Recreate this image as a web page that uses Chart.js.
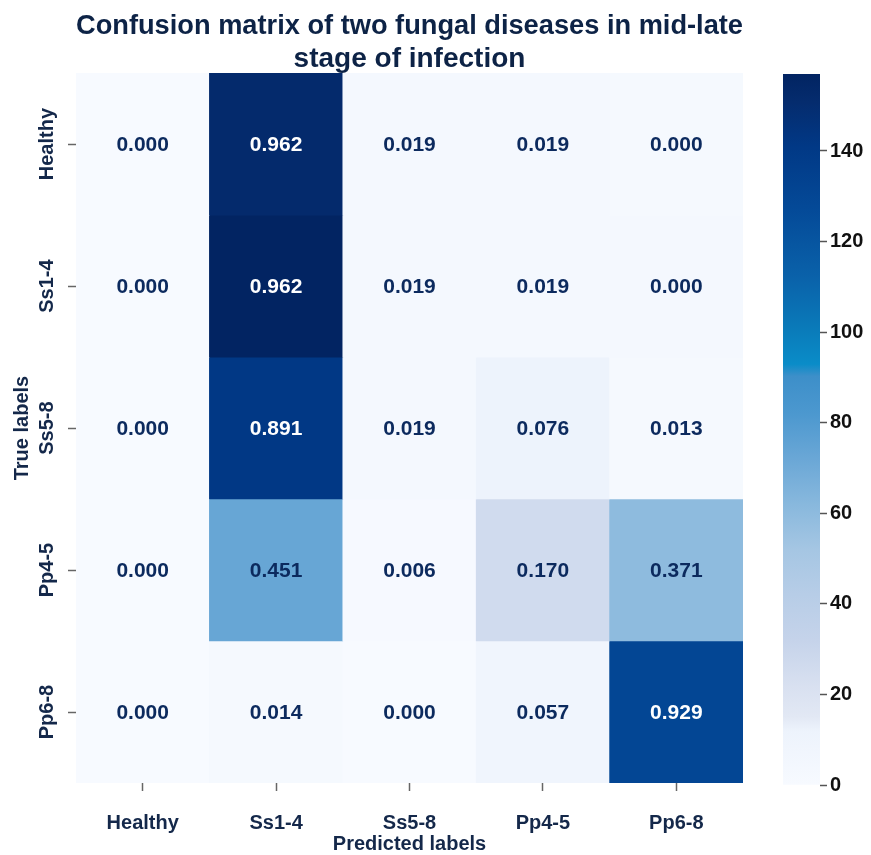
<!DOCTYPE html>
<html>
<head>
<meta charset="utf-8">
<script src="https://cdn.jsdelivr.net/npm/chart.js@4/dist/chart.umd.min.js"></script>
<style>
  html, body { margin: 0; padding: 0; background: #ffffff; }
  #wrap { position: relative; width: 871px; height: 855px; }
  #wrap canvas { position: absolute; left: 0; top: 0; }
</style>
</head>
<body>
<div id="wrap">
  <canvas id="matrix" width="871" height="855"></canvas>
  <canvas id="cbar" width="871" height="855"></canvas>
</div>
<script>
// Class names on both axes
const predictedLabels = ['Healthy', 'Ss1-4', 'Ss5-8', 'Pp4-5', 'Pp6-8'];
const trueLabels = ['Healthy', 'Ss1-4', 'Ss5-8', 'Pp4-5', 'Pp6-8'];

// Sample counts per cell (rows = true class, columns = predicted class); drive the cell colour
const countsHealthy = [0, 152, 3, 3, 2];
const countsSs14    = [0, 157, 3, 4, 4];
const countsSs58    = [0, 141, 3, 12, 2];
const countsPp45    = [0, 73, 1, 26, 60];
const countsPp68    = [0, 2, 0, 8, 130];

// Row-normalised rates printed in each cell
const ratesHealthy = [0.000, 0.962, 0.019, 0.019, 0.000];
const ratesSs14    = [0.000, 0.962, 0.019, 0.019, 0.000];
const ratesSs58    = [0.000, 0.891, 0.019, 0.076, 0.013];
const ratesPp45    = [0.000, 0.451, 0.006, 0.170, 0.371];
const ratesPp68    = [0.000, 0.014, 0.000, 0.057, 0.929];

// Colour bar range and tick step
const colorMin = 0;
const colorMax = 157;
const colorTickStep = 20;

const counts = [countsHealthy, countsSs14, countsSs58, countsPp45, countsPp68];
const rates = [ratesHealthy, ratesSs14, ratesSs58, ratesPp45, ratesPp68];

// Blue sequential colour map: [fraction of range, colour]
const cmapStops = [
  [0.000, '#f7faff'],
  [0.076, '#edf3fc'],
  [0.096, '#e2e8f4'],
  [0.140, '#d8e0f0'],
  [0.204, '#c5d3ea'],
  [0.268, '#b7cde7'],
  [0.331, '#a5c6e3'],
  [0.395, '#88b8dd'],
  [0.459, '#6aa7d6'],
  [0.522, '#4c98cf'],
  [0.575, '#3d8fc9'],
  [0.592, '#0a8cc8'],
  [0.643, '#0a7ab9'],
  [0.713, '#0a62aa'],
  [0.809, '#044a98'],
  [0.900, '#013885'],
  [0.960, '#052c6e'],
  [1.000, '#022462']
];

function hexToRgb(h) {
  const n = parseInt(h.slice(1), 16);
  return [(n >> 16) & 255, (n >> 8) & 255, n & 255];
}

function colormap(v) {
  let t = (v - colorMin) / (colorMax - colorMin);
  t = Math.max(0, Math.min(1, t));
  for (let i = 1; i < cmapStops.length; i++) {
    const [t1, c1] = cmapStops[i];
    const [t0, c0] = cmapStops[i - 1];
    if (t <= t1) {
      const f = (t - t0) / (t1 - t0 || 1);
      const a = hexToRgb(c0), b = hexToRgb(c1);
      const rgb = a.map((x, k) => Math.round(x + (b[k] - x) * f));
      return `rgb(${rgb[0]},${rgb[1]},${rgb[2]})`;
    }
  }
  return cmapStops[cmapStops.length - 1][1];
}

const FONT = "'Liberation Sans', Arial, Helvetica, sans-serif";
const LABEL_COLOR = '#14284a';

// One floating-bar dataset per true-class row, spanning [row, row + 1] on the row axis
const datasets = counts.map((row, r) => ({
  label: trueLabels[r],
  data: row.map(() => [r, r + 1]),
  backgroundColor: row.map(colormap),
  borderWidth: 0,
  barPercentage: 1,
  categoryPercentage: 1,
  grouped: false
}));

// Writes the rate value at the centre of each cell
const cellText = {
  id: 'cellText',
  afterDatasetsDraw(chart) {
    const ctx = chart.ctx;
    ctx.save();
    ctx.font = `bold 21px ${FONT}`;
    ctx.textAlign = 'center';
    ctx.textBaseline = 'middle';
    chart.data.datasets.forEach((ds, r) => {
      const meta = chart.getDatasetMeta(r);
      meta.data.forEach((bar, c) => {
        const props = bar.getProps(['x', 'y', 'base'], true);
        const cy = (props.y + props.base) / 2;
        ctx.fillStyle = counts[r][c] > 100 ? '#ffffff' : '#0c2a5e';
        ctx.fillText(rates[r][c].toFixed(3), props.x, cy + 1);
      });
    });
    ctx.restore();
  }
};

new Chart(document.getElementById('matrix'), {
  type: 'bar',
  data: { labels: predictedLabels, datasets },
  plugins: [cellText],
  options: {
    responsive: false,
    animation: false,
    events: [],
    layout: { padding: { left: 0, right: 128, top: 0, bottom: 0 } },
    plugins: {
      legend: { display: false },
      tooltip: { enabled: false },
      title: {
        display: true,
        fullSize: false,
        text: ['Confusion matrix of two fungal diseases in mid-late', 'stage of infection'],
        color: '#0d2346',
        font: { family: FONT, size: 28, weight: 'bold', lineHeight: 1.18 },
        padding: { top: 10, bottom: -3 }
      }
    },
    scales: {
      x: {
        type: 'category',
        grid: { offset: false, drawOnChartArea: false, tickLength: 8, color: '#666666', tickWidth: 1.5 },
        border: { display: false },
        ticks: { color: LABEL_COLOR, font: { family: FONT, size: 20, weight: 'bold' }, padding: 20, maxRotation: 0, minRotation: 0 },
        title: { display: true, text: 'Predicted labels', color: LABEL_COLOR, font: { family: FONT, size: 20, weight: 'bold' }, padding: { top: 0, bottom: -1 } },
        afterFit(scale) { scale.height = 72; }
      },
      y: {
        type: 'linear',
        min: 0,
        max: trueLabels.length,
        reverse: true,
        afterBuildTicks(scale) { scale.ticks = trueLabels.map((_, i) => ({ value: i + 0.5 })); },
        grid: { drawOnChartArea: false, tickLength: 8, color: '#666666', tickWidth: 1.5 },
        border: { display: false },
        ticks: {
          color: LABEL_COLOR,
          font: { family: FONT, size: 20, weight: 'bold' },
          minRotation: 90, maxRotation: 90,
          crossAlign: 'center',
          padding: -16,
          callback(v) { return trueLabels[Math.floor(v)]; }
        },
        title: { display: true, text: 'True labels', color: LABEL_COLOR, font: { family: FONT, size: 20, weight: 'bold' }, padding: { top: 10, bottom: 0 } },
        afterFit(scale) { scale.width = 76; }
      }
    }
  }
});

// Colour bar: one bar from colorMin to colorMax filled with the colour map
new Chart(document.getElementById('cbar'), {
  type: 'bar',
  data: {
    labels: [''],
    datasets: [{
      data: [[colorMin, colorMax]],
      borderWidth: 0,
      barPercentage: 1,
      categoryPercentage: 1,
      backgroundColor(c) {
        const chart = c.chart;
        if (!chart.chartArea) return cmapStops[0][1];
        const ys = chart.scales.y;
        const g = chart.ctx.createLinearGradient(0, ys.getPixelForValue(colorMin), 0, ys.getPixelForValue(colorMax));
        cmapStops.forEach(([t, col]) => g.addColorStop(t, col));
        return g;
      }
    }]
  },
  options: {
    responsive: false,
    animation: false,
    events: [],
    layout: { padding: { left: 783, right: 0, top: 74, bottom: 70 } },
    plugins: { legend: { display: false }, tooltip: { enabled: false } },
    scales: {
      x: { display: false },
      y: {
        position: 'right',
        min: colorMin,
        max: colorMax,
        afterBuildTicks(scale) { scale.ticks = scale.ticks.filter(t => t.value % colorTickStep === 0); },
        ticks: { stepSize: colorTickStep, color: '#111111', font: { family: FONT, size: 20, weight: 'bold' }, padding: 3 },
        grid: { drawOnChartArea: false, tickLength: 7, color: '#555555', tickWidth: 1.5 },
        border: { display: false },
        afterFit(scale) { scale.width = 51; }
      }
    }
  }
});
</script>
</body>
</html>
